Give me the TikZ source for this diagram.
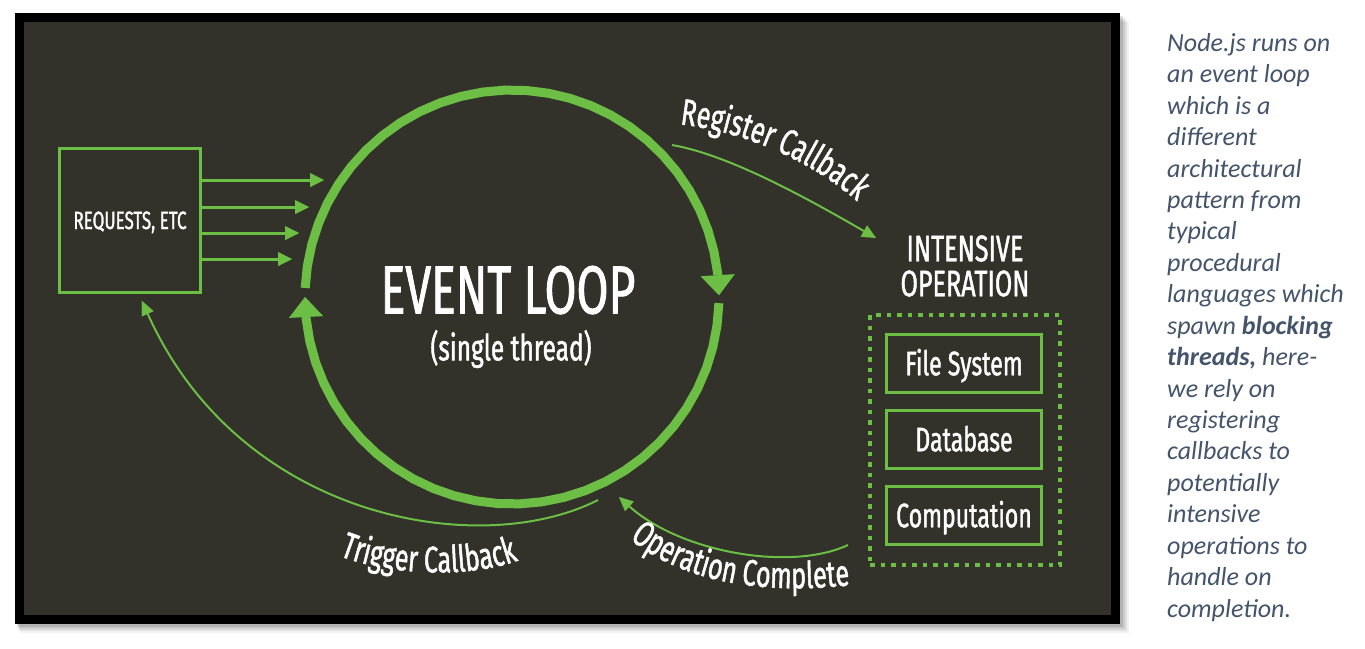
\documentclass[tikz,border=0pt]{standalone}
\usepackage{fontspec}
\usetikzlibrary{arrows.meta,decorations.text}
\newfontfamily\dg{Fira Sans}[FakeStretch=0.68,FakeBold=1.2]
\newfontfamily\side{Carlito}
\definecolor{bg}{RGB}{50,50,43}
\definecolor{grn}{RGB}{108,190,68}
\definecolor{slate}{RGB}{68,84,106}
\newcommand\curvfont{\color{white}\dg\fontsize{37}{37}\selectfont}
\begin{document}
\begin{tikzpicture}[x=1pt,y=-1pt,
  ring/.style={draw=grn, line width=9pt, -{Triangle[length=20pt,width=34pt,line width=0.01pt]}},
  feed/.style={draw=grn, line width=3pt, -{Triangle[length=14pt,width=14pt,line width=0.01pt]}},
  thinarrow/.style={draw=grn, line width=2pt, -{Triangle[length=14pt,width=13pt,line width=0.01pt]}},
  opbox/.style={draw=grn, line width=3pt, minimum width=155pt, minimum height=58pt, inner sep=0pt,
    text=white, text height=23.5pt, text depth=0pt, font=\dg\fontsize{34}{34}\selectfont},
  curved/.style={decorate, decoration={text along path, text align=center, text={|\curvfont|#1}}}
]
\useasboundingbox (0,0) rectangle (1365,648);
\fill[white] (0,0) rectangle (1365,648);
% panel shadow and panel
\foreach \i/\o in {9/0.05,7/0.07,5/0.09,3/0.12} {
  \fill[black,opacity=\o] (15+\i*0.5,13+\i) rectangle (1120+\i,624+\i);
}
\fill[black] (15,13) rectangle (1120,624);
\fill[bg] (24,22) rectangle (1111,615);

% requests box
\node[draw=grn, line width=3pt, minimum width=141pt, minimum height=144pt, inner sep=0pt,
  text=white, text height=17pt, text depth=0pt, font=\dg\fontsize{25}{25}\selectfont] (req) at (130,220.5) {REQUESTS, ETC};
\coordinate (f1) at (324,180);
\coordinate (f2) at (309,207);
\coordinate (f3) at (299,233);
\coordinate (f4) at (292,259);
\foreach \f in {f1,f2,f3,f4} {\draw[feed] (req.east |- \f) -- (\f);}

% event loop ring
\coordinate (loop) at (512,297);
\draw[ring] plot[domain=182.5:359.5, samples=30] ({512+207*cos(\x)},{297+207*sin(\x)});
\draw[ring] plot[domain=1.7:180, samples=30] ({512+207*cos(\x)},{297+207*sin(\x)});
\node[text=white, font=\dg\fontsize{68}{68}\selectfont, text height=47pt, text depth=0pt, inner sep=0pt] (ev) at (508,290) {EVENT LOOP};
\node[text=white, font=\dg\fontsize{36}{36}\selectfont, inner sep=0pt] (st) at (511,349) {(single thread)};

% intensive operation
\node[text=white, align=center, font=\dg\fontsize{37}{35}\selectfont, inner sep=0pt] (io) at (965,266) {INTENSIVE\\OPERATION};
\node[draw=grn, line width=4.5pt, dash pattern=on 4.5pt off 6pt, minimum width=190pt, minimum height=250pt, inner sep=0pt] (ops) at (965,440) {};
\node[opbox] (fs) at (964,363.5) {File System};
\node[opbox] (db) at (964,439.5) {Database};
\node[opbox] (cp) at (964,515.5) {Computation};

% connectors
\coordinate (rcA) at (672,145);
\coordinate (rcB) at (876,238);
\draw[thinarrow] (rcA) .. controls (730,155) and (810,200) .. (rcB);
\coordinate (ocA) at (848,545);
\coordinate (ocB) at (619,497);
\draw[thinarrow] (ocA) .. controls (790,572) and (680,552) .. (ocB);
\coordinate (tcA) at (598,500);
\coordinate (tcB) at (142,301);
\draw[thinarrow] (tcA) .. controls (480,560) and (240,520) .. (tcB);

% curved labels
\path[curved={Register Callback}] (676,124) .. controls (740,130) and (812,160) .. (860,204);
\path[curved={Trigger Callback}] (331,552) .. controls (375,574) and (470,582) .. (527,557);
\path[curved={Operation Complete}] (628,538) .. controls (668,570) and (735,598) .. (852,585);

% side note
\node[anchor=north west, inner sep=0pt, align=left, text=slate,
  font=\side\itshape\fontsize{26}{31.44}\selectfont] (note) at (1167,33)
  {Node.js runs on\\an event loop\\which is a\\different\\architectural\\pattern from\\typical\\procedural\\languages which\\spawn \textbf{blocking}\\\textbf{threads,} here-\\we rely on\\registering\\callbacks to\\potentially\\intensive\\operations to\\handle on\\completion.};
\end{tikzpicture}
\end{document}
